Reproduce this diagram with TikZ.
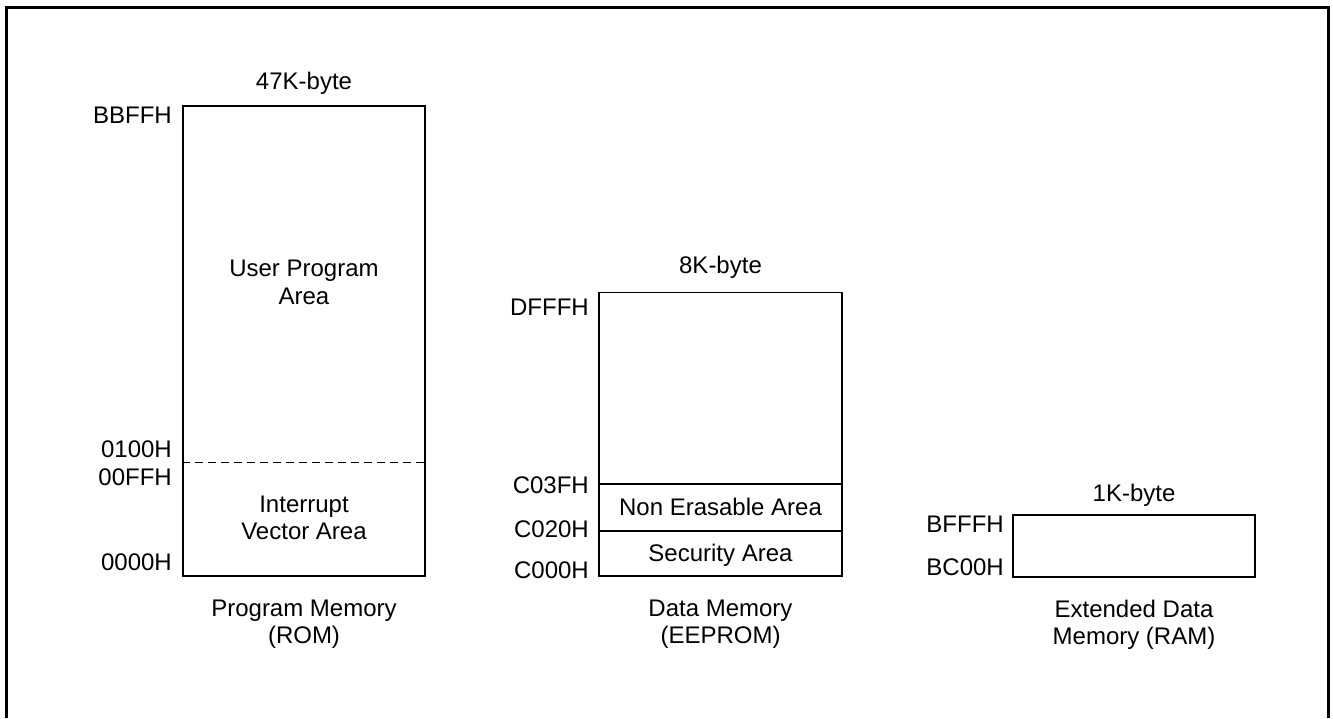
\documentclass[tikz,border=0pt]{standalone}
\usepackage{fontspec}
\setmainfont{Liberation Sans}
\newcommand{\memfont}{\fontsize{24}{27.5}\selectfont}

\begin{document}
\begin{tikzpicture}[x=1pt,y=-1pt]
  \tikzset{block/.style={draw, line width=1.6pt, inner sep=0pt},
           addr/.style={anchor=base east, inner sep=0pt, font=\memfont},
           txt/.style={inner sep=0pt, align=center, font=\memfont}}
  \useasboundingbox (0,0) rectangle (1333,718);
  \draw[line width=3pt] (6.5,718) -- (6.5,7.5) -- (1328,7.5) -- (1328,718);

  \node[block, minimum width=242pt, minimum height=470pt] (rom) at (304,341) {};
  \node[block, minimum width=243pt, minimum height=283.5pt] (eeprom) at (720.5,434.25) {};
  \node[block, minimum width=242pt, minimum height=62pt] (ram) at (1134,546) {};

  \draw[line width=1.6pt, dash pattern=on 8pt off 5pt] (rom.west |- 0,462.5) -- (rom.east |- 0,462.5);
  \draw[line width=1.6pt] (eeprom.west |- 0,484) -- (eeprom.east |- 0,484);
  \draw[line width=1.6pt] (eeprom.west |- 0,531) -- (eeprom.east |- 0,531);

  \node[txt, anchor=base] (romsize) at (rom.north |- 0,89) {47K-byte};
  \node[txt, anchor=base] (eepromsize) at (eeprom.north |- 0,273) {8K-byte};
  \node[txt, anchor=base] (ramsize) at (ram.north |- 0,501) {1K-byte};

  \node[addr] (bbffh) at (172,123) {BBFFH};
  \node[addr] (a0100h) at (172,457) {0100H};
  \node[addr] (a00ffh) at (172,485) {00FFH};
  \node[addr] (a0000h) at (172,570) {0000H};
  \node[addr] (dfffh) at (589,315) {DFFFH};
  \node[addr] (c03fh) at (589,493) {C03FH};
  \node[addr] (c020h) at (589,537) {C020H};
  \node[addr] (c000h) at (589,578) {C000H};
  \node[addr] (bfffh) at (1004,532) {BFFFH};
  \node[addr] (bc00h) at (1004,575) {BC00H};

  \node[txt] (userarea) at (rom.center |- 0,282.4) {User Program\\Area};
  \node[txt] (intarea) at (rom.center |- 0,517.9) {Interrupt\\Vector Area};
  \node[txt, anchor=base] (nonerase) at (eeprom.center |- 0,515) {Non Erasable Area};
  \node[txt, anchor=base] (security) at (eeprom.center |- 0,561) {Security Area};

  \node[txt] (romcap) at (rom.center |- 0,624) {Program Memory\\(ROM)};
  \node[txt] (eepromcap) at (eeprom.center |- 0,624) {Data Memory\\(EEPROM)};
  \node[txt] (ramcap) at (ram.center |- 0,625) {Extended Data\\Memory (RAM)};
\end{tikzpicture}
\end{document}
